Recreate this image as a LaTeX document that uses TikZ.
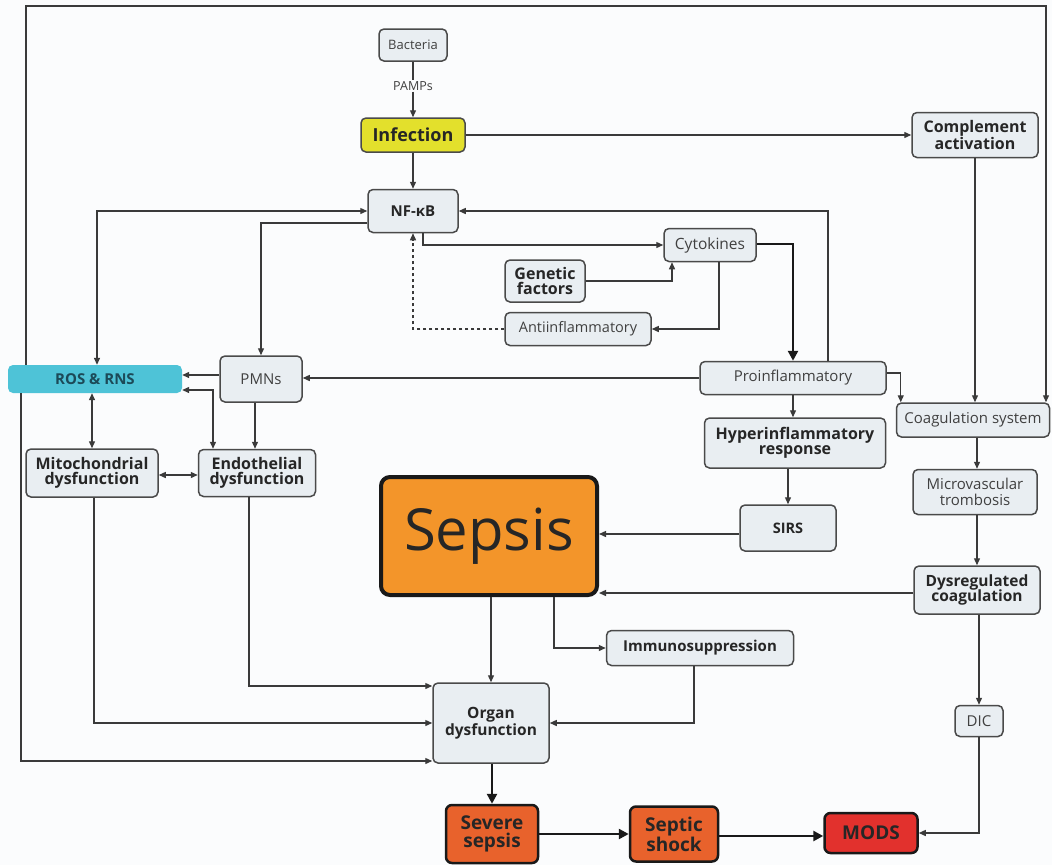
\documentclass[tikz,border=0pt]{standalone}
\usepackage{fontspec}
\setmainfont{Open Sans}
\usetikzlibrary{arrows.meta,calc}
\definecolor{bg}{HTML}{FBFCFD}
\definecolor{boxfill}{HTML}{E9EEF2}
\definecolor{boxline}{HTML}{4A4A4A}
\definecolor{lnk}{HTML}{3A3A3A}
\definecolor{infy}{HTML}{E3E02C}
\definecolor{roscol}{HTML}{4EC3D7}
\definecolor{rostext}{HTML}{1C4A58}
\definecolor{sepcol}{HTML}{F3952A}
\definecolor{sevcol}{HTML}{E8622C}
\definecolor{modcol}{HTML}{E2312D}
\tikzset{
  box/.style={draw=boxline, fill=boxfill, line width=1.5pt, rounded corners=5pt,
    inner sep=0pt, align=center, text=black!85},
  hot/.style={draw=black!90, line width=2.5pt, rounded corners=6pt,
    inner sep=0pt, align=center, text=black!85, font=\fontsize{19}{18}\selectfont\bfseries},
  fr/.style={font=\fontsize{#1}{15.5}\selectfont, text=black!75},
  fb/.style={font=\fontsize{#1}{15.5}\selectfont\bfseries},
  conn/.style={draw=lnk, line width=1.3pt, -{Triangle[length=7pt,width=6pt]}},
  bconn/.style={draw=lnk, line width=1.3pt, {Triangle[length=7pt,width=6pt]}-{Triangle[length=7pt,width=6pt]}},
  thick conn/.style={draw=black!90, line width=2.6pt, -{Triangle[length=10pt,width=10pt]}},
  plain/.style={draw=lnk, line width=1.3pt},
}
\begin{document}
\begin{tikzpicture}[x=1pt,y=-1pt]
\path[use as bounding box, fill=bg] (0,0) rectangle (1052,865);

% nodes
\node[box, fr=13, minimum width=68pt, minimum height=32pt] (bact) at (413,45) {Bacteria};
\node[inner sep=1pt, fr=12.5] (pamps) at (413,86) {PAMPs};
\node[box, fill=infy, fb=18, minimum width=104pt, minimum height=34pt] (inf) at (413,135) {Infection};
\node[box, fb=15, minimum width=90pt, minimum height=43pt] (nfkb) at (413,211) {NF-κB};
\node[box, fb=16, minimum width=126pt, minimum height=45pt] (comp) at (975,135) {Complement\\activation};
\node[box, fr=15.5, minimum width=92pt, minimum height=33pt] (cyto) at (710,245) {Cytokines};
\node[box, fb=16, minimum width=80pt, minimum height=42pt] (gen) at (545,281) {Genetic\\factors};
\node[box, fr=14.5, minimum width=146pt, minimum height=33pt] (anti) at (578,329) {Antiinflammatory};
\node[box, fr=15, minimum width=186pt, minimum height=33pt] (pro) at (793,378) {Proinflammatory};
\node[box, fr=15, minimum width=153pt, minimum height=34pt] (coag) at (973,420) {Coagulation system};
\node[fill=roscol, rounded corners=5pt, inner sep=0pt, text=rostext, font=\fontsize{15}{15}\selectfont\bfseries, minimum width=174pt, minimum height=28pt] (ros) at (95,379) {ROS \& RNS};
\node[box, fr=15, minimum width=82pt, minimum height=46pt] (pmn) at (261,379) {PMNs};
\node[box, fb=16, minimum width=132pt, minimum height=48pt] (mito) at (92,473) {Mitochondrial\\dysfunction};
\node[box, fb=16, minimum width=117pt, minimum height=47pt] (endo) at (257,473) {Endothelial\\dysfunction};
\node[box, fb=16, minimum width=181pt, minimum height=50pt] (hyper) at (795,443) {Hyperinflammatory\\response};
\node[box, fb=14.5, minimum width=96pt, minimum height=46pt] (sirs) at (788,528) {SIRS};
\node[draw=black!90, fill=sepcol, line width=4pt, rounded corners=9pt, inner sep=0pt,
  text=black!85, font=\fontsize{58}{58}\selectfont, minimum width=216pt, minimum height=118pt] (sepsis) at (489,536) {Sepsis};
\node[box, fr=15, minimum width=124pt, minimum height=45pt] (micro) at (975,492) {Microvascular\\trombosis};
\node[box, fb=15.5, minimum width=126pt, minimum height=48pt] (dysreg) at (977,590) {Dysregulated\\coagulation};
\node[box, fb=15, minimum width=187pt, minimum height=35pt] (immuno) at (700,648) {Immunosuppression};
\node[box, fb=15.5, minimum width=116pt, minimum height=80pt] (organ) at (491,723) {Organ\\dysfunction};
\node[box, fr=15, minimum width=48pt, minimum height=31pt] (dic) at (979,721) {DIC};
\node[hot, fill=sevcol, minimum width=92pt, minimum height=58pt] (severe) at (492,834) {Severe\\sepsis};
\node[hot, fill=sevcol, minimum width=88pt, minimum height=55pt] (shock) at (674,834) {Septic\\shock};
\node[hot, fill=modcol, minimum width=93pt, minimum height=40pt] (mods) at (871,833) {MODS};

% helper coordinates
\coordinate (tl) at (26,6);
\coordinate (tr) at (1046,6);
\coordinate (bl) at (21,761);
\coordinate (vx) at (977,0);
\coordinate (px) at (255,0);

% connectors
\draw[plain] (bact.south) -- (pamps.north);
\draw[conn] (pamps.south) -- (pamps.south |- inf.north);
\draw[conn] (inf.south -| nfkb.north) -- (nfkb.north);
\draw[conn] (inf.east) -- (inf.east -| comp.west);
\draw[conn] (comp.south) -- (comp.south |- coag.north);
\draw[conn] (ros.north -| tl) -- (tl) -- (tr) -- (tr |- coag.north);
\draw[conn] (ros.south -| bl) -- (bl) -- (bl -| organ.west);
\draw[bconn] ([xshift=2pt]ros.north) |- (nfkb.west);
\draw[conn] ([yshift=-12pt]nfkb.west) -| (pmn.north);
\draw[conn] ([xshift=10pt]nfkb.south) |- (cyto.west);
\draw[conn, dashed, dash pattern=on 3pt off 3pt] (anti.west) -| (nfkb.south);
\draw[conn] (gen.east) -| ([xshift=-38pt]cyto.south);
\draw[conn] ([xshift=9pt]cyto.south) |- (anti.east);
\draw[thick conn] ([yshift=1pt]cyto.east) -| (pro.north);
\draw[conn] ([xshift=35pt]pro.north) |- (nfkb.east);
\draw[conn] (pro.west) -- (pro.west -| pmn.east);
\draw[conn] ([yshift=5pt]pro.east) -| ([xshift=5pt]coag.north west);
\draw[conn] (pro.south) -- (pro.south |- hyper.north);
\draw[conn] (sirs.north |- hyper.south) -- (sirs.north);
\draw[conn] ([yshift=-6pt]sirs.west) -- ([yshift=-6pt]sirs.west -| sepsis.east);
\draw[conn] ([yshift=-3pt]dysreg.west) -- ([yshift=-3pt]dysreg.west -| sepsis.east);
\draw[conn] (coag.south -| vx) -- (micro.north -| vx);
\draw[conn] (micro.south -| vx) -- (dysreg.north -| vx);
\draw[conn] (dysreg.south -| dic.north) -- (dic.north);
\draw[conn] (dic.south) |- (mods.east);
\draw[conn] ([yshift=4pt]pmn.west) -- ([yshift=4pt]pmn.west -| ros.east);
\draw[bconn] ([xshift=-44pt]endo.north) |- ([yshift=-11pt]ros.east);
\draw[conn] (pmn.south -| px) -- (endo.north -| px);
\draw[bconn] (ros.south -| mito.north) -- (mito.north);
\draw[bconn] ([yshift=-2pt]mito.east) -- ([yshift=-2pt]endo.west);
\draw[conn] ([xshift=-8pt]endo.south) |- ([yshift=37pt]organ.west);
\draw[conn] ([xshift=2pt]mito.south) |- (organ.west);
\draw[conn] (sepsis.south -| organ.north) -- (organ.north);
\draw[conn] ([xshift=65pt]sepsis.south) |- (immuno.west);
\draw[conn] ([xshift=-6pt]immuno.south) |- (organ.east);
\draw[thick conn] (organ.south -| severe.north) -- (severe.north);
\draw[thick conn] (severe.east) -- (shock.west);
\draw[thick conn] ([yshift=-2pt]shock.east) -- ([yshift=-2pt]shock.east -| mods.west);
\end{tikzpicture}
\end{document}
